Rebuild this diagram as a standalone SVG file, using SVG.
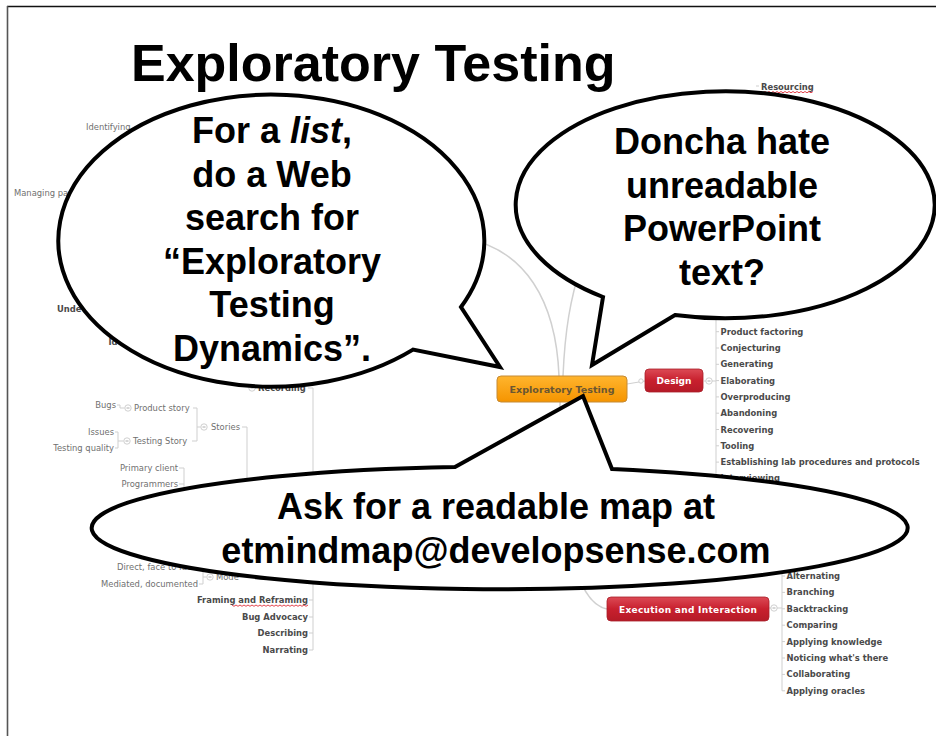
<svg xmlns="http://www.w3.org/2000/svg" width="936" height="736" viewBox="0 0 936 736">
<defs>
<linearGradient id="gOrange" x1="0" y1="0" x2="0" y2="1"><stop offset="0" stop-color="#ffb52e"/><stop offset="1" stop-color="#f59400"/></linearGradient>
<linearGradient id="gRed" x1="0" y1="0" x2="0" y2="1"><stop offset="0" stop-color="#dc4a55"/><stop offset="0.5" stop-color="#c8202e"/><stop offset="1" stop-color="#b51a27"/></linearGradient>
<style>
.mm{font-family:"DejaVu Sans",Verdana,sans-serif;font-size:8.4px;fill:#707070}
.mb{font-family:"DejaVu Sans",Verdana,sans-serif;font-size:8.4px;font-weight:bold;fill:#4a4a4a}
.end{text-anchor:end}
.ln{fill:none;stroke:#cfcfcf;stroke-width:1}
.curve{fill:none;stroke:#d0d0d0;stroke-width:1.5}
.knob{fill:#fff;stroke:#c4c4c4;stroke-width:0.8}
.squig{fill:none;stroke:#e0303a;stroke-width:0.9}
.bubble{fill:#fff;stroke:#000;stroke-width:4;stroke-linejoin:miter}
.bt{font-family:"Liberation Sans",Arial,sans-serif;font-size:36px;font-weight:bold;fill:#000;text-anchor:middle}
.nodeTxt{font-family:"DejaVu Sans",Verdana,sans-serif;font-weight:bold;text-anchor:middle}
</style>
</defs>
<rect width="936" height="736" fill="#fff"/>
<g id="frame">
<line x1="7" y1="6.5" x2="936" y2="6.5" stroke="#111" stroke-width="1.5"/>
<line x1="7.5" y1="6" x2="7.5" y2="736" stroke="#555" stroke-width="1.6"/>
</g>
<g id="title"><text x="131" y="81" font-family="Liberation Sans, Arial, sans-serif" font-size="52" font-weight="bold" fill="#000">Exploratory Testing</text></g>

<g id="connectors">
<path class="curve" d="M559,376 C556,300 525,250 465,238"/>
<path class="curve" d="M563,376 C565,330 570,300 582,262"/>
<path class="curve" d="M560,402 C560,520 572,602 607,609"/>
<line class="ln" x1="627" y1="384" x2="645" y2="381"/>
<line class="ln" x1="704" y1="381" x2="706" y2="381"/>
<line class="ln" x1="712" y1="381" x2="716" y2="381"/>
<path class="ln" d="M716,316 V478 M716,331.7h3 M716,348h3 M716,364.3h3 M716,380.6h3 M716,396.9h3 M716,413.2h3 M716,429.5h3 M716,445.8h3 M716,462.1h3 M716,478.4h3"/>
<line class="ln" x1="769" y1="608" x2="771" y2="608"/>
<line class="ln" x1="777" y1="608" x2="782" y2="608"/>
<path class="ln" d="M782,560 V690.8 M782,576h3 M782,592.4h3 M782,608.8h3 M782,625.2h3 M782,641.6h3 M782,658h3 M782,674.4h3 M782,690.8h3"/>
<line class="ln" x1="756" y1="86" x2="759" y2="86"/>
<path class="ln" d="M117,405 h3 v3 h4.5"/>
<path class="ln" d="M115,432 h3 M115,448 h3 M118,432 V448 M118,441 h5.5"/>
<path class="ln" d="M193,408 h4 M192,441 h5 M197,408 V441 M197,427 h3.5"/>
<path class="ln" d="M242,427 h5 M247,427 V530"/>
<path class="ln" d="M179,468 h5 M179,484 h5 M184,468 V512"/>
<path class="ln" d="M199,584 h4 M203,566 V584 M203,577 h3.5"/>
<path class="ln" d="M308,388 h5 M313,388 V650 M309,600 h4 M309,617 h4 M309,633 h4 M309,650 h4"/>
</g>

<g id="node-central">
<rect x="497" y="376" width="130" height="26" rx="4" fill="url(#gOrange)" stroke="#c58a35" stroke-width="1"/>
<text class="nodeTxt" x="562" y="392.5" font-size="9.4" fill="#6a5632" textLength="105" lengthAdjust="spacingAndGlyphs">Exploratory Testing</text>
</g>
<g id="node-design">
<circle class="knob" cx="641" cy="381" r="2.2"/>
<rect x="645" y="369" width="58" height="23" rx="4" fill="url(#gRed)" stroke="#a8202a" stroke-width="0.8"/>
<text class="nodeTxt" x="674" y="384" font-size="9" fill="#fff">Design</text>
<circle class="knob" cx="709" cy="381" r="3.2"/><line x1="707.5" y1="381" x2="710.5" y2="381" stroke="#999" stroke-width="0.8"/>
</g>
<g id="design-children">
<text class="mb" x="720.5" y="334.7">Product factoring</text>
<text class="mb" x="720.5" y="351">Conjecturing</text>
<text class="mb" x="720.5" y="367.3">Generating</text>
<text class="mb" x="720.5" y="383.6">Elaborating</text>
<text class="mb" x="720.5" y="399.9">Overproducing</text>
<text class="mb" x="720.5" y="416.2">Abandoning</text>
<text class="mb" x="720.5" y="432.5">Recovering</text>
<text class="mb" x="720.5" y="448.8">Tooling</text>
<text class="mb" x="720.5" y="465.1">Establishing lab procedures and protocols</text>
<text class="mb" x="720.5" y="481.4">Interviewing</text>
</g>
<g id="node-execution">
<rect x="607" y="597" width="162" height="24" rx="4" fill="url(#gRed)" stroke="#a8202a" stroke-width="0.8"/>
<text class="nodeTxt" x="688" y="612.5" font-size="9" fill="#fff" textLength="138" lengthAdjust="spacing">Execution and Interaction</text>
<circle class="knob" cx="774" cy="608" r="3.2"/><line x1="772.5" y1="608" x2="775.5" y2="608" stroke="#999" stroke-width="0.8"/>
</g>
<g id="execution-children">
<text class="mb" x="786.5" y="579">Alternating</text>
<text class="mb" x="786.5" y="595.4">Branching</text>
<text class="mb" x="786.5" y="611.8">Backtracking</text>
<text class="mb" x="786.5" y="628.2">Comparing</text>
<text class="mb" x="786.5" y="644.6">Applying knowledge</text>
<text class="mb" x="786.5" y="661">Noticing what's there</text>
<text class="mb" x="786.5" y="677.4">Collaborating</text>
<text class="mb" x="786.5" y="693.8">Applying oracles</text>
</g>
<g id="node-resourcing">
<text class="mb" x="761" y="89.5">Resourcing</text>
<path class="squig" d="M761,91.5 l2,1.3 l2,-1.3 l2,1.3 l2,-1.3 l2,1.3 l2,-1.3 l2,1.3 l2,-1.3 l2,1.3 l2,-1.3 l2,1.3 l2,-1.3 l2,1.3 l2,-1.3 l2,1.3 l2,-1.3 l2,1.3 l2,-1.3 l2,1.3 l2,-1.3 l2,1.3 l2,-1.3 l2,1.3 l2,-1.3 l2,1.3 l2,-1.3"/>
</g>
<g id="left-nodes">
<text class="mm" x="86" y="130">Identifying</text>
<text class="mm" x="14" y="196">Managing pa</text>
<text class="mb" x="57" y="312">Unde</text>
<text class="mb" x="108.5" y="345">Id</text>
<circle class="knob" cx="252" cy="388" r="3.2"/><line x1="250.5" y1="388" x2="253.5" y2="388" stroke="#999" stroke-width="0.8"/>
<text class="mb" x="258" y="391">Recording</text>
<text class="mm end" x="116" y="408">Bugs</text>
<circle class="knob" cx="128" cy="408" r="3.2"/><line x1="126.5" y1="408" x2="129.5" y2="408" stroke="#999" stroke-width="0.8"/>
<text class="mm" x="134" y="411">Product story</text>
<circle class="knob" cx="204" cy="427" r="3.2"/><line x1="202.5" y1="427" x2="205.5" y2="427" stroke="#999" stroke-width="0.8"/>
<text class="mm" x="211" y="430">Stories</text>
<text class="mm end" x="114" y="435">Issues</text>
<text class="mm end" x="114" y="451">Testing quality</text>
<circle class="knob" cx="127" cy="441" r="3.2"/><line x1="125.5" y1="441" x2="128.5" y2="441" stroke="#999" stroke-width="0.8"/>
<text class="mm" x="133" y="444">Testing Story</text>
<text class="mm end" x="178" y="471">Primary client</text>
<text class="mm end" x="178" y="487">Programmers</text>
<text class="mm" x="117" y="570">Direct, face to face</text>
<text class="mm end" x="198" y="587">Mediated, documented</text>
<circle class="knob" cx="210" cy="577" r="3.2"/><line x1="208.5" y1="577" x2="211.5" y2="577" stroke="#999" stroke-width="0.8"/>
<text class="mm" x="216" y="580">Mode</text>
<text class="mb end" x="308" y="603">Framing and Reframing</text>
<path class="squig" d="M232,605 l2,1.3 l2,-1.3 l2,1.3 l2,-1.3 l2,1.3 l2,-1.3 l2,1.3 l2,-1.3 l2,1.3 l2,-1.3 l2,1.3 l2,-1.3 l2,1.3 l2,-1.3 l2,1.3 l2,-1.3 l2,1.3 l2,-1.3 l2,1.3 l2,-1.3 l2,1.3 l2,-1.3 l2,1.3 l2,-1.3 l2,1.3 l2,-1.3 l2,1.3 l2,-1.3 l2,1.3 l2,-1.3 l2,1.3 l2,-1.3 l2,1.3 l2,-1.3 l2,1.3 l2,-1.3 l2,1.3 l2,-1.3"/>
<text class="mb end" x="308" y="620">Bug Advocacy</text>
<text class="mb end" x="308" y="636">Describing</text>
<text class="mb end" x="308" y="653">Narrating</text>
</g>

<g id="bubble-list">
<path class="bubble" d="M461,307 A213,146 0 1 0 413,349.6 L500,367 Z"/>
<text class="bt" x="272" y="143">For a <tspan font-style="italic">list</tspan>,</text>
<text class="bt" x="272" y="186.5">do a Web</text>
<text class="bt" x="272" y="230">search for</text>
<text class="bt" x="272" y="273.5">“Exploratory</text>
<text class="bt" x="272" y="317">Testing</text>
<text class="bt" x="272" y="360.5">Dynamics”.</text>
</g>
<g id="bubble-doncha">
<path class="bubble" d="M675,315 A209.5,113.5 0 1 0 603,297 L592,365 Z"/>
<text class="bt" x="722" y="154">Doncha hate</text>
<text class="bt" x="722" y="197.5">unreadable</text>
<text class="bt" x="722" y="241">PowerPoint</text>
<text class="bt" x="722" y="284.5">text?</text>
</g>
<g id="bubble-ask">
<path class="bubble" d="M612,469 A408,61.3 0 1 1 455,467 L583,396 Z"/>
<text class="bt" x="496" y="519">Ask for a readable map at</text>
<text class="bt" x="496" y="563">etmindmap@developsense.com</text>
</g>
</svg>
